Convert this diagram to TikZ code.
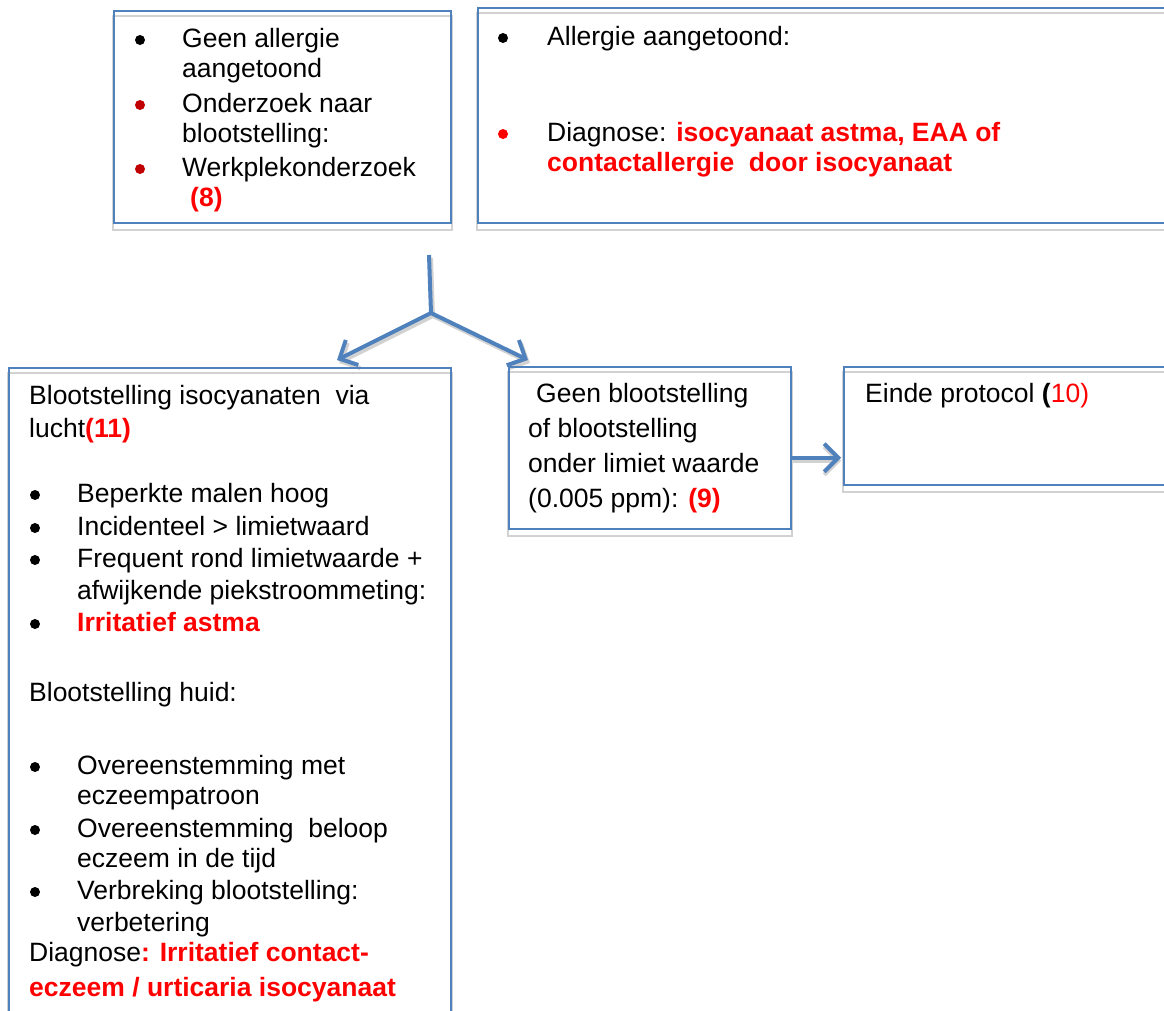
\documentclass[tikz,border=0pt]{standalone}
\usepackage{fontspec}
\setmainfont{Liberation Sans}
\usetikzlibrary{arrows.meta,backgrounds}

\definecolor{kaderblauw}{HTML}{4F81BD}
\definecolor{rood}{HTML}{FF0000}
\definecolor{donkerrood}{HTML}{C00000}
\definecolor{schaduwgrijs}{HTML}{D2D2D2}
\newcommand{\roodvet}[1]{\textcolor{rood}{\bfseries #1}}

\begin{document}
\begin{tikzpicture}[x=1pt, y=-1pt]

    % --- Stijlen ---
    \tikzset{
        % kaders met blauwe rand
        kader/.style={
            draw=kaderblauw,
            line width=1.5pt,
            anchor=north west,
            inner sep=0pt
        },
        % grijze schaduw onder de kaders
        schaduw/.style={
            draw=schaduwgrijs,
            line width=2pt
        },
        % een regel tekst
        regel/.style={
            anchor=base west,
            inner sep=0pt,
            font=\fontsize{26.5}{30}\selectfont
        },
        % opsommingsteken
        stip/.style={
            circle,
            fill=black,
            inner sep=0pt,
            minimum size=10pt
        },
        % dikke blauwe pijlen
        pijl/.style={
            draw=kaderblauw,
            line width=4pt,
            -{Straight Barb[length=14pt, width=28pt]}
        },
        pijlschaduw/.style={
            draw=schaduwgrijs,
            line width=4pt,
            -{Straight Barb[length=14pt, width=28pt]}
        }
    }

    \path[use as bounding box, clip] (0,0) rectangle (1164,1010);

    % --- 1. Kaders ---

    % Geen allergie
    \node[kader, minimum width=337, minimum height=212] (geenallergie) at (113,10) {};
    % Allergie aangetoond (loopt rechts door)
    \node[kader, minimum width=710, minimum height=215] (allergie) at (477,7) {};
    % Blootstelling via lucht / huid (loopt onder door)
    \node[kader, minimum width=442, minimum height=700] (lucht) at (8,367) {};
    % Geen blootstelling
    \node[kader, minimum width=282, minimum height=162] (geenblootstelling) at (508,366) {};
    % Einde protocol
    \node[kader, minimum width=340, minimum height=118] (einde) at (843,366) {};

    % punten voor de pijlen
    \coordinate (pijlboven) at (429,255);
    \coordinate (splitsing) at (431,313);
    \coordinate (pijllinks) at (337,360);
    \coordinate (pijlrechts) at (528,360);

    % schaduwen en achtergrond
    \begin{scope}[on background layer]
        \fill[white] (0,0) rectangle (1164,1010);
        \draw[schaduw] ([yshift=-6pt]geenallergie.north west) rectangle ([yshift=-6pt]geenallergie.south east);
        \draw[schaduw] ([yshift=-6pt]allergie.north west) rectangle ([yshift=-6pt]allergie.south east);
        \draw[schaduw] ([yshift=-6pt]lucht.north west) rectangle ([yshift=-6pt]lucht.south east);
        \draw[schaduw] ([yshift=-6pt]geenblootstelling.north west) rectangle ([yshift=-6pt]geenblootstelling.south east);
        \draw[schaduw] ([yshift=-6pt]einde.north west) rectangle ([yshift=-6pt]einde.south east);
        \draw[pijlschaduw, -] ([shift={(2,3)}]pijlboven) -- ([shift={(2,3)}]splitsing);
        \draw[pijlschaduw] ([shift={(2,3)}]splitsing) -- ([shift={(2,3)}]pijllinks);
        \draw[pijlschaduw] ([shift={(2,3)}]splitsing) -- ([shift={(2,3)}]pijlrechts);
        \draw[pijlschaduw] ([yshift=-13pt]geenblootstelling.east) -- ([shift={(-2,13)}]geenblootstelling.east -| einde.west);
    \end{scope}

    % --- 2. Tekst in de kaders ---

    % Geen allergie
    \node[stip] (ga-stip1) at (140,40) {};
    \node[regel] (ga-1) at (182,47) {Geen allergie};
    \node[regel] (ga-2) at (182,77) {aangetoond};
    \node[stip, fill=donkerrood] (ga-stip2) at (140,105) {};
    \node[regel] (ga-3) at (182,112) {Onderzoek naar};
    \node[regel] (ga-4) at (182,142) {blootstelling:};
    \node[stip, fill=donkerrood] (ga-stip3) at (140,169) {};
    \node[regel] (ga-5) at (182,176) {Werkplekonderzoek};
    \node[regel] (ga-6) at (190,206) {\roodvet{(8)}};

    % Allergie aangetoond
    \node[stip] (al-stip1) at (503,38) {};
    \node[regel] (al-1) at (547,45) {Allergie aangetoond:};
    \node[stip, fill=rood] (al-stip2) at (503,134) {};
    \node[regel] (al-2) at (547,141) {Diagnose: \roodvet{isocyanaat astma, EAA of}};
    \node[regel] (al-3) at (547,171) {\roodvet{contactallergie~ door isocyanaat}};

    % Geen blootstelling
    \node[regel] (gb-1) at (536,402) {Geen blootstelling};
    \node[regel] (gb-2) at (528,437) {of blootstelling};
    \node[regel] (gb-3) at (528,472) {onder limiet waarde};
    \node[regel] (gb-4) at (528,507) {(0.005 ppm): \roodvet{(9)}};

    % Einde protocol
    \node[regel] (ei-1) at (865,402) {Einde protocol \textbf{(}\textcolor{rood}{10)}};

    % Blootstelling via lucht
    \node[regel] (lu-1) at (29,404) {Blootstelling isocyanaten~ via};
    \node[regel] (lu-2) at (29,437) {lucht\roodvet{(11)}};
    \node[stip] (lu-stip1) at (35,495) {};
    \node[regel] (lu-3) at (77,502) {Beperkte malen hoog};
    \node[stip] (lu-stip2) at (35,528) {};
    \node[regel] (lu-4) at (77,535) {Incidenteel > limietwaard};
    \node[stip] (lu-stip3) at (35,560) {};
    \node[regel] (lu-5) at (77,567) {Frequent rond limietwaarde +};
    \node[regel] (lu-6) at (77,599) {afwijkende piekstroommeting:};
    \node[stip] (lu-stip4) at (35,624) {};
    \node[regel] (lu-7) at (77,631) {\roodvet{Irritatief astma}};

    % Blootstelling via huid
    \node[regel] (hu-1) at (29,701) {Blootstelling huid:};
    \node[stip] (hu-stip1) at (35,767) {};
    \node[regel] (hu-2) at (77,774) {Overeenstemming met};
    \node[regel] (hu-3) at (77,804) {eczeempatroon};
    \node[stip] (hu-stip2) at (35,830) {};
    \node[regel] (hu-4) at (77,837) {Overeenstemming~ beloop};
    \node[regel] (hu-5) at (77,867) {eczeem in de tijd};
    \node[stip] (hu-stip3) at (35,892) {};
    \node[regel] (hu-6) at (77,899) {Verbreking blootstelling:};
    \node[regel] (hu-7) at (77,931) {verbetering};
    \node[regel] (hu-8) at (29,961) {Diagnose\roodvet{: Irritatief contact-}};
    \node[regel] (hu-9) at (29,996) {\roodvet{eczeem / urticaria isocyanaat}};

    % --- 3. Pijlen ---

    % splitsing naar links en rechts
    \draw[pijl, -] (pijlboven) -- (splitsing);
    \draw[pijl] (splitsing) -- (pijllinks);
    \draw[pijl] (splitsing) -- (pijlrechts);

    % naar einde protocol
    \draw[pijl] ([yshift=-10pt]geenblootstelling.east) -- ([shift={(-2,10)}]geenblootstelling.east -| einde.west);

\end{tikzpicture}
\end{document}
